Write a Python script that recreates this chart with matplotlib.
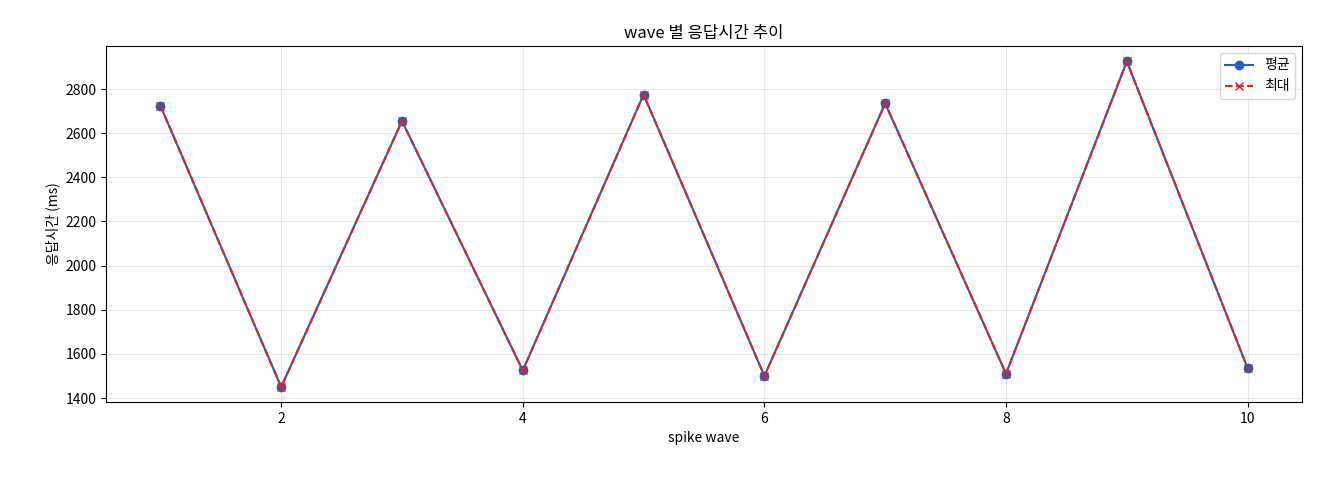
import matplotlib
matplotlib.use("Agg")
import matplotlib.pyplot as plt

plt.rcParams['font.family'] = ['Noto Sans CJK KR', 'DejaVu Sans']

waves = [1, 2, 3, 4, 5, 6, 7, 8, 9, 10]
avg = [2725, 1450, 2655, 1525, 2775, 1500, 2735, 1510, 2925, 1535]
mx = [2725, 1450, 2655, 1525, 2775, 1500, 2735, 1510, 2925, 1535]

fig = plt.figure(figsize=(13.2, 4.8), dpi=100)
ax = fig.add_axes([106/1320, 1-402/480, (1302-106)/1320, (402-46)/480])
ax.plot(waves, avg, marker='o', color='#1f5fbf', label='평균', markersize=6)
ax.plot(waves, mx, marker='x', linestyle='--', color='#d62728', label='최대', markersize=6)
ax.set_title('wave 별 응답시간 추이', fontsize=12)
ax.set_xlabel('spike wave', fontsize=10)
ax.set_ylabel('응답시간 (ms)', fontsize=10)
ax.set_yticks(range(1400, 2801, 200))
ax.set_ylim(1382, 2995)
ax.grid(True, alpha=0.3)
ax.legend(loc='upper right')
fig.savefig('out.png', dpi=100)
